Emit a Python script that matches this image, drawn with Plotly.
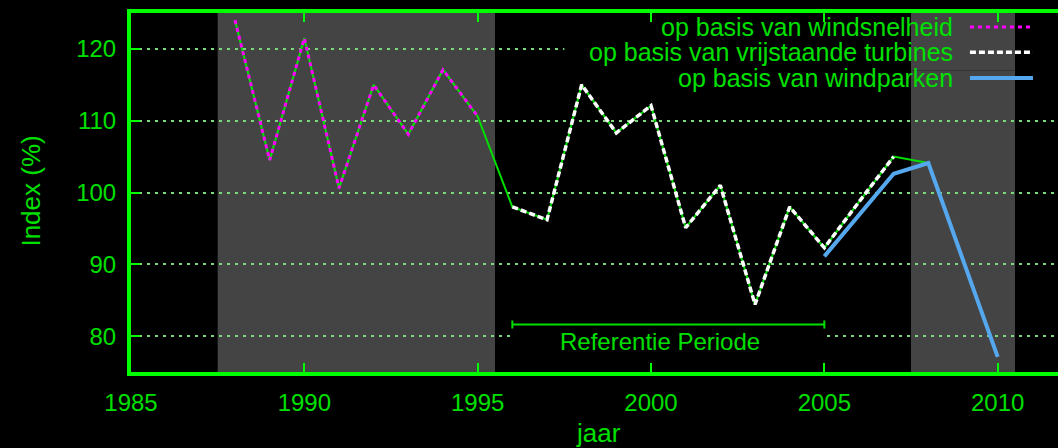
import plotly.graph_objects as go

# ---- data ----
wind_years = [1988, 1989, 1990, 1991, 1992, 1993, 1994, 1995]
wind_vals = [124.0, 104.5, 121.5, 100.6, 115.0, 108.1, 117.1, 110.6]

turb_years = [1996, 1997, 1998, 1999, 2000, 2001, 2002, 2003, 2004, 2005, 2006, 2007]
turb_vals = [98.0, 96.2, 115.0, 108.3, 112.1, 95.1, 101.0, 84.4, 98.0, 92.3, 98.7, 105.0]

park_years = [2005, 2006, 2007, 2008, 2009, 2010]
park_vals = [91.1, 96.9, 102.6, 104.1, 90.6, 77.1]

# combined index line (green) 1988-2008
comb_years = wind_years + turb_years + [park_years[3]]
comb_vals = wind_vals + turb_vals + [park_vals[3]]

shade_periods = [(1987.5, 1995.5), (2007.5, 2010.5)]
ref_start, ref_end, ref_level = 1996, 2005, 81.6
ref_label = "Referentie Periode"

legend_labels = ["op basis van windsnelheid",
                 "op basis van vrijstaande turbines",
                 "op basis van windparken"]

x_ticks = [1985, 1990, 1995, 2000, 2005, 2010]
y_ticks = [80, 90, 100, 110, 120]
x_range = [1985, 2011.74]
y_range = [75, 125]

# ---- style ----
GREEN = "#00e000"
FRAME = "#00ff00"
GRID = "rgb(125,215,125)"
GRAY = "rgb(68,68,68)"
MAGENTA = "#ff00ff"
WHITE = "#ffffff"
BLUE = "rgb(86,168,238)"
FONT = "Liberation Sans"

fig = go.Figure()

fig.add_trace(go.Scatter(x=comb_years, y=comb_vals, mode="lines",
                         line=dict(color=GREEN, width=2)))
fig.add_trace(go.Scatter(x=wind_years, y=wind_vals, mode="lines",
                         line=dict(color=MAGENTA, width=3, dash="4px,4px")))
fig.add_trace(go.Scatter(x=turb_years, y=turb_vals, mode="lines",
                         line=dict(color=WHITE, width=3.5, dash="6px,3px")))
fig.add_trace(go.Scatter(x=park_years, y=park_vals, mode="lines",
                         line=dict(color=BLUE, width=4)))

# reference period bar
fig.add_trace(go.Scatter(x=[(ref_start + ref_end) / 2], y=[ref_level], mode="markers",
                         marker=dict(size=1, color="rgba(0,0,0,0)"),
                         error_x=dict(type="data", array=[(ref_end - ref_start) / 2],
                                      color=GREEN, thickness=2, width=4)))

shapes = []
for x0, x1 in shade_periods:
    shapes.append(dict(type="rect", xref="x", yref="y", x0=x0, x1=x1,
                       y0=y_range[0], y1=y_range[1], fillcolor=GRAY,
                       line=dict(width=0), layer="below"))
# key box covers the grid
shapes.append(dict(type="rect", xref="x", yref="y", x0=1997.5, x1=x_range[1],
                   y0=117, y1=y_range[1], fillcolor="black", line=dict(width=0),
                   layer="between"))
shapes.append(dict(type="rect", xref="x", yref="y", x0=shade_periods[1][0],
                   x1=shade_periods[1][1], y0=117, y1=y_range[1], fillcolor=GRAY,
                   line=dict(width=0), layer="between"))
# label box covers the grid
shapes.append(dict(type="rect", xref="x", yref="y", x0=ref_start, x1=ref_end,
                   y0=79, y1=81, fillcolor="black", line=dict(width=0),
                   layer="between"))

# legend samples (key drawn manually: symbol right of text)
key_styles = [dict(color=MAGENTA, width=3, dash="4px,4px"),
              dict(color=WHITE, width=3.5, dash="6px,3px"),
              dict(color=BLUE, width=4)]
key_y = [0.961, 0.891, 0.819]
annotations = []
for lab, st, yy in zip(legend_labels, key_styles, key_y):
    shapes.append(dict(type="line", xref="paper", yref="paper", x0=0.905, x1=0.973,
                       y0=yy, y1=yy, line=st, layer="above"))
    annotations.append(dict(text=lab, xref="paper", yref="paper", x=0.889, y=yy,
                            xanchor="right", yanchor="middle", showarrow=False,
                            font=dict(family=FONT, size=25, color=GREEN)))

annotations.append(dict(text=ref_label, xref="x", yref="y", x=2000.25, y=79.2,
                        xanchor="center", yanchor="middle", showarrow=False,
                        font=dict(family=FONT, size=24, color=GREEN)))
annotations.append(dict(text="Index (%)", xref="paper", yref="paper", x=-0.108, y=0.505,
                        xanchor="center", yanchor="middle", showarrow=False,
                        textangle=-90, font=dict(family=FONT, size=26, color=GREEN)))
annotations.append(dict(text="jaar", xref="paper", yref="paper", x=0.504, y=-0.170,
                        xanchor="center", yanchor="middle", showarrow=False,
                        font=dict(family=FONT, size=26, color=GREEN)))

fig.update_layout(
    width=1058, height=448, autosize=False,
    paper_bgcolor="black", plot_bgcolor="black",
    margin=dict(l=131, r=0, t=13, b=76),
    showlegend=False,
    font=dict(family=FONT, size=24, color=GREEN),
    shapes=shapes, annotations=annotations,
)
fig.update_xaxes(range=x_range, tickvals=x_ticks, ticks="inside", ticklen=9,
                 tickwidth=2, tickcolor=FRAME, showline=True, linecolor=FRAME,
                 linewidth=4, mirror="ticks", showgrid=False, zeroline=False,
                 ticklabelstandoff=6, tickfont=dict(family=FONT, size=24, color=GREEN))
fig.update_yaxes(range=y_range, tickvals=y_ticks, ticks="inside", ticklen=9,
                 tickwidth=2, tickcolor=FRAME, showline=True, linecolor=FRAME,
                 linewidth=4, mirror=False, showgrid=True, gridcolor=GRID,
                 gridwidth=2, griddash="3px,5px", zeroline=False,
                 ticklabelstandoff=6, tickfont=dict(family=FONT, size=24, color=GREEN))

fig.write_html(
    "out.html",
    config={"displayModeBar": False},
    post_script="document.body.style.margin='0';document.body.style.background='black';"
                "document.body.style.overflow='hidden';",
)
